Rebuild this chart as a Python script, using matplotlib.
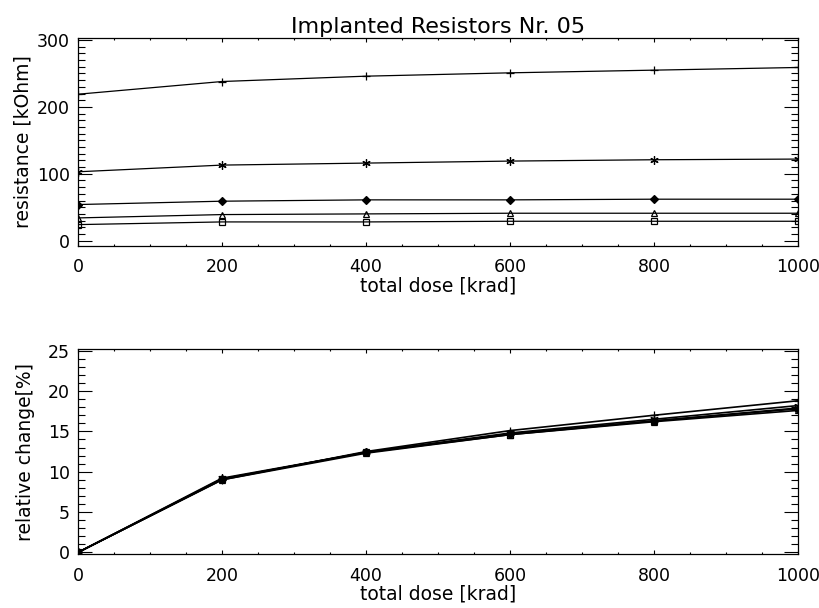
import numpy as np
import matplotlib
matplotlib.use('Agg')
import matplotlib.pyplot as plt
from matplotlib.ticker import MultipleLocator

# total dose steps [krad]
dose = [0, 200, 400, 600, 800, 1000]

# resistance per resistor [kOhm]
r_plus = [219, 238, 246, 251, 255, 259]
r_star = [103, 113, 116, 119, 121, 122]
r_diamond = [54, 59, 61, 61, 62, 62]
r_triangle = [34, 39, 40, 41, 41, 41]
r_square = [24, 28, 28, 29, 29, 29]

# relative change per resistor [%]
c_plus = [0, 9.0, 12.5, 15.1, 17.0, 18.8]
c_star = [0, 9.2, 12.4, 14.8, 16.5, 18.2]
c_diamond = [0, 9.1, 12.4, 14.7, 16.3, 17.8]
c_triangle = [0, 9.0, 12.3, 14.6, 16.2, 17.6]
c_square = [0, 9.1, 12.4, 14.6, 16.3, 17.9]

plt.rcParams['font.family'] = ['DejaVu Sans']

markers = ['+', (6, 2, 0), 'D', '^', 's']
marker_sizes = [6, 6, 4, 5, 4]
marker_fill = ['k', 'k', 'k', 'none', 'none']


def style_axis(ax, ylim, ymajor, yminor):
    '''IDL-like box axes with inward ticks on all sides.'''
    ax.set_xlim(0, 1000)
    ax.set_ylim(*ylim)
    ax.xaxis.set_major_locator(MultipleLocator(200))
    ax.xaxis.set_minor_locator(MultipleLocator(50))
    ax.yaxis.set_major_locator(MultipleLocator(ymajor))
    ax.yaxis.set_minor_locator(MultipleLocator(yminor))
    ax.tick_params(which='both', direction='in', top=True, right=True,
                   labelsize=12.5, width=0.8, color='k')
    ax.tick_params(axis='x', which='major', length=3, pad=9)
    ax.tick_params(axis='x', which='minor', length=1.5)
    ax.tick_params(axis='y', which='major', length=10, pad=6)
    ax.tick_params(axis='y', which='minor', length=5)
    for sp in ax.spines.values():
        sp.set_linewidth(0.9)
    ax.set_xlabel('total dose [krad]', fontsize=13.5, labelpad=0)


fig = plt.figure(figsize=(8.2, 6.08), dpi=100)
ax1 = fig.add_axes([0.0951, 0.5954, 0.878, 0.342])
ax2 = fig.add_axes([0.0951, 0.0888, 0.878, 0.337])

top_series = [r_plus, r_star, r_diamond, r_triangle, r_square]
bottom_series = [c_plus, c_star, c_diamond, c_triangle, c_square]

for vals, m, ms, mf in zip(top_series, markers, marker_sizes, marker_fill):
    ax1.plot(dose, vals, color='k', lw=0.9, marker=m, ms=ms,
             markerfacecolor=mf, markeredgecolor='k', markeredgewidth=0.9)

for vals, m, ms, mf in zip(bottom_series, markers, marker_sizes, marker_fill):
    ax2.plot(dose, vals, color='k', lw=1.2, marker=m, ms=ms,
             markerfacecolor=mf, markeredgecolor='k', markeredgewidth=0.9)

style_axis(ax1, (-8, 303), 100, 10)
style_axis(ax2, (-0.2, 25.2), 5, 1)

ax1.set_ylabel('resistance [kOhm]', fontsize=13.5, labelpad=3)
ax2.set_ylabel('relative change[%]', fontsize=13.5, labelpad=9)
ax1.set_title('Implanted Resistors Nr. 05', fontsize=16, pad=4)

fig.savefig('out.png', dpi=100)
